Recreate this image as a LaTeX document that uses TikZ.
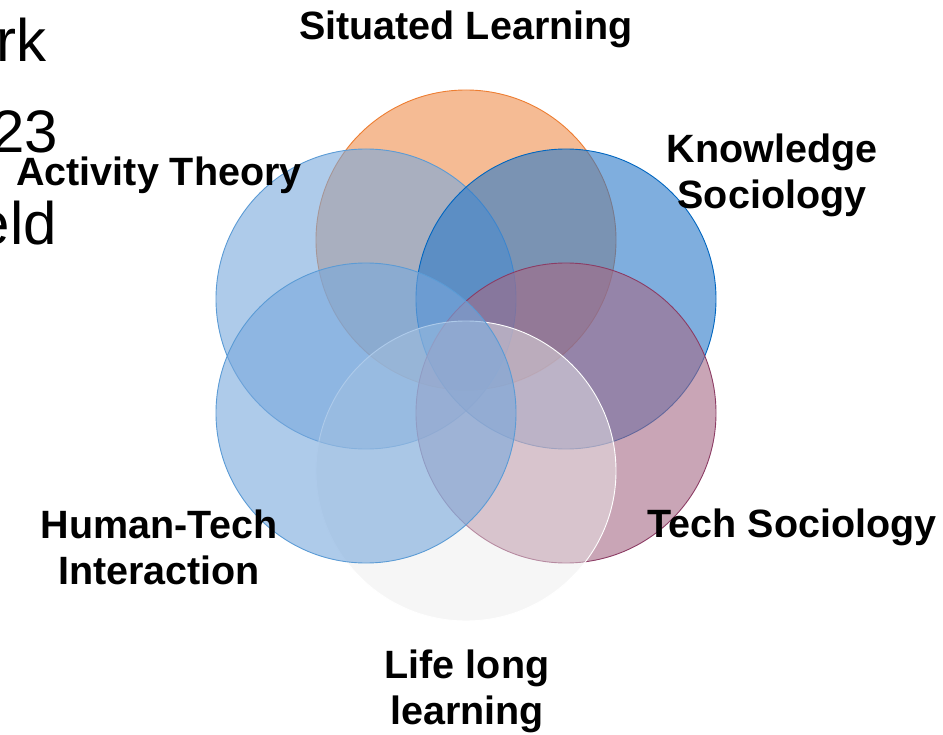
\documentclass[tikz,border=0pt]{standalone}
\usepackage{fontspec}
\setmainfont{Liberation Sans}
\usepackage{xcolor}
\usepackage{tikz}

\definecolor{slfill}{RGB}{238,142,77}
\definecolor{sledge}{RGB}{237,125,49}
\definecolor{atfill}{RGB}{120,168,220}
\definecolor{atedge}{RGB}{91,155,213}
\definecolor{ksfill}{RGB}{42,120,200}
\definecolor{ksedge}{RGB}{0,102,192}
\definecolor{tsfill}{RGB}{165,105,133}
\definecolor{tsedge}{RGB}{140,60,100}
\definecolor{llfill}{RGB}{235,235,235}

\begin{document}
\begin{tikzpicture}[x=1pt,y=1pt]
		\tikzstyle{every node}+=[inner sep=0pt]
		\tikzstyle{ring}=[line width=0.9pt, fill opacity=0.6]
		\tikzstyle{lbl}=[font=\bfseries\fontsize{39.5}{46}\selectfont, align=center, anchor=base]
		\tikzstyle{slide}=[font=\fontsize{60}{72}\selectfont, anchor=base east]
		\useasboundingbox (0,0) rectangle (943,-735);
		\clip (0,0) rectangle (943,-735);
		% slide text behind the diagram
		\node (frag1) [slide] at (47,-62) {rk};
		\node (frag2) [slide] at (58,-153) {23};
		\node (frag3) [slide] at (57,-245) {eld};
		% circle centres
		\coordinate (sl) at (466,-240);
		\coordinate (ks) at (566,-299);
		\coordinate (ts) at (566,-413);
		\coordinate (ll) at (466,-471);
		\coordinate (ht) at (366,-413);
		\coordinate (at) at (366,-299);
		\draw [ring, draw=sledge, fill=slfill] (sl) circle (150);
		\draw [ring, draw=atedge, fill=atfill] (at) circle (150);
		\draw [ring, draw=ksedge, fill=ksfill] (ks) circle (150);
		\draw [ring, draw=tsedge, fill=tsfill] (ts) circle (150);
		\draw [ring, draw=white, fill=llfill, fill opacity=0.45] (ll) circle (150);
		\draw [ring, draw=atedge, fill=atfill] (ht) circle (150);
		% labels (base = last line)
		\node (situ) [lbl] at (466,-40) {Situated Learning};
		\node (acti) [lbl] at (159,-186) {Activity Theory};
		\node (know) [lbl] at (772,-209) {Knowledge\\Sociology};
		\node (tech) [lbl] at (792,-537) {Tech Sociology};
		\node (huma) [lbl] at (159,-584) {Human-Tech\\Interaction};
		\node (life) [lbl] at (467,-724) {Life long\\learning};
\end{tikzpicture}
\end{document}
